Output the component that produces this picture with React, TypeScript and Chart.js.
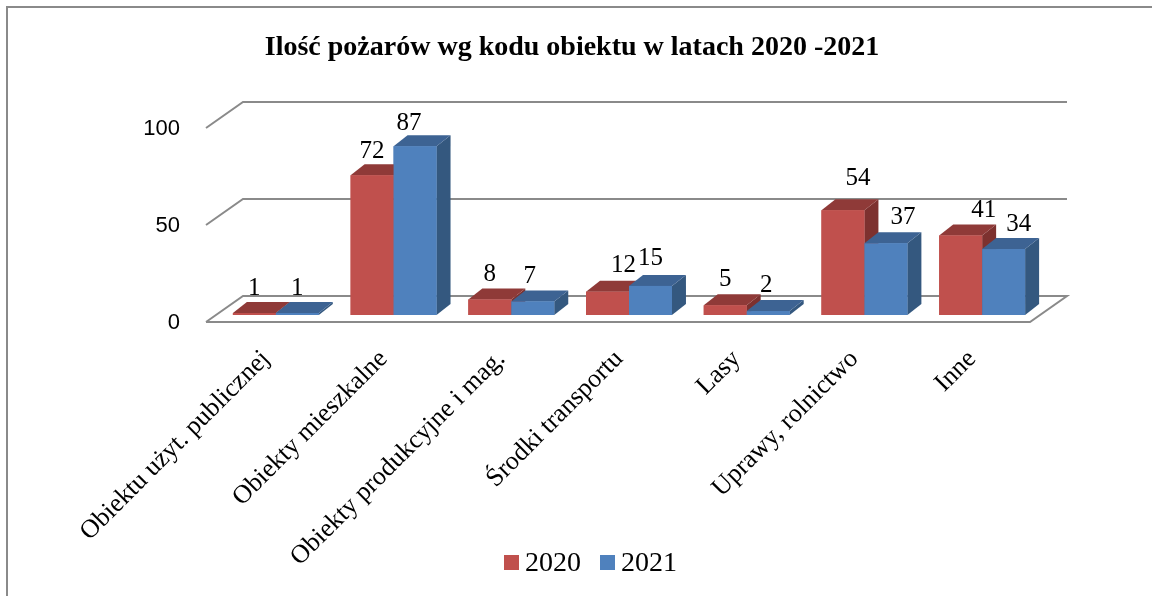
import { useEffect, useRef } from "react";
import { Chart, registerables } from "chart.js";

Chart.register(...registerables);

// ---- data ----
const CATEGORIES = [
  "Obiektu użyt. publicznej",
  "Obiekty mieszkalne",
  "Obiekty produkcyjne i mag.",
  "Środki transportu",
  "Lasy",
  "Uprawy, rolnictwo",
  "Inne",
];
const SERIES_NAMES = ["2020", "2021"];
const VALUES_2020 = [1, 72, 8, 12, 5, 54, 41];
const VALUES_2021 = [1, 87, 7, 15, 2, 37, 34];
const Y_TICKS = [0, 50, 100];
const TITLE = "Ilość pożarów wg kodu obiektu w latach 2020 -2021";

// ---- styles ----
const FRONT_COLORS = ["#C0504D", "#4F81BD"];
const TOP_COLORS = ["#8F3A38", "#3D6393"];
const SIDE_COLORS = ["#7D312F", "#34587F"];
const GRID_COLOR = "#8A8A8A";
const SERIF = "'Liberation Serif', 'Times New Roman', serif";
const SANS = "'Liberation Sans', Arial, sans-serif";
// 3D projection offsets (pixels) relative to the bar front plane
const FLOOR_FRONT = { dx: -11, dy: 7 };
const FLOOR_BACK = { dx: 26, dy: -19 };
const BAR_DEPTH = { dx: 14, dy: -11 };
// small nudges of value labels, as placed in the original
const LABEL_NUDGE_X = [
  [0, 0, 0, 16, 0, 15, 23],
  [0, -6, -3, 0, -2, 17, 15],
];
const LABEL_NUDGE_Y = [
  [0, 1, 0, -1, -1, -7, 0],
  [0, 2, 0, -2, -1, -1, 0],
];

const threeDPlugin = {
  id: "threeD",
  beforeDraw(chart: any) {
    const ctx = chart.ctx;
    ctx.save();
    ctx.fillStyle = "#ffffff";
    ctx.fillRect(0, 0, chart.width, chart.height);
    ctx.strokeStyle = GRID_COLOR;
    ctx.lineWidth = 2;
    ctx.beginPath();
    ctx.moveTo(7, chart.height);
    ctx.lineTo(7, 7);
    ctx.lineTo(chart.width, 7);
    ctx.stroke();
    ctx.restore();
  },
  beforeDatasetsDraw(chart: any) {
    const { ctx, chartArea: a } = chart;
    const y = chart.scales.y;
    ctx.save();
    ctx.strokeStyle = GRID_COLOR;
    ctx.lineWidth = 2;
    ctx.lineJoin = "miter";
    Y_TICKS.forEach((v) => {
      const py = y.getPixelForValue(v);
      ctx.beginPath();
      ctx.moveTo(a.left + FLOOR_FRONT.dx, py + FLOOR_FRONT.dy);
      ctx.lineTo(a.left + FLOOR_BACK.dx, py + FLOOR_BACK.dy);
      ctx.lineTo(a.right + FLOOR_BACK.dx, py + FLOOR_BACK.dy);
      if (v === 0) {
        ctx.lineTo(a.right + FLOOR_FRONT.dx, py + FLOOR_FRONT.dy);
        ctx.lineTo(a.left + FLOOR_FRONT.dx, py + FLOOR_FRONT.dy);
      }
      ctx.stroke();
    });
    ctx.restore();
  },
  afterDatasetsDraw(chart: any) {
    const ctx = chart.ctx;
    const metas = chart.data.datasets.map((_: any, i: number) => chart.getDatasetMeta(i));
    ctx.save();
    for (let c = 0; c < CATEGORIES.length; c++) {
      metas.forEach((meta: any, d: number) => {
        const el = meta.data[c];
        if (!el) return;
        const { x, y, base, width } = el.getProps(["x", "y", "base", "width"], true);
        const l = x - width / 2;
        const r = x + width / 2;
        const t = Math.min(y, base);
        const b = Math.max(y, base);
        // side
        ctx.fillStyle = SIDE_COLORS[d];
        ctx.beginPath();
        ctx.moveTo(r, t);
        ctx.lineTo(r + BAR_DEPTH.dx, t + BAR_DEPTH.dy);
        ctx.lineTo(r + BAR_DEPTH.dx, b + BAR_DEPTH.dy);
        ctx.lineTo(r, b);
        ctx.closePath();
        ctx.fill();
        // top
        ctx.fillStyle = TOP_COLORS[d];
        ctx.beginPath();
        ctx.moveTo(l, t);
        ctx.lineTo(r, t);
        ctx.lineTo(r + BAR_DEPTH.dx, t + BAR_DEPTH.dy);
        ctx.lineTo(l + BAR_DEPTH.dx, t + BAR_DEPTH.dy);
        ctx.closePath();
        ctx.fill();
        // front
        ctx.fillStyle = FRONT_COLORS[d];
        ctx.fillRect(l, t, r - l, b - t);
      });
    }
    // value labels
    ctx.fillStyle = "#000000";
    ctx.font = `25px ${SERIF}`;
    ctx.textAlign = "center";
    ctx.textBaseline = "middle";
    metas.forEach((meta: any, d: number) => {
      const values = chart.data.datasets[d].data;
      meta.data.forEach((el: any, c: number) => {
        const { x, y } = el.getProps(["x", "y"], true);
        ctx.fillText(
          String(values[c]),
          x + LABEL_NUDGE_X[d][c],
          y - 25 + LABEL_NUDGE_Y[d][c]
        );
      });
    });
    ctx.restore();
  },
  afterDraw(chart: any) {
    const ctx = chart.ctx;
    ctx.save();
    // title
    ctx.fillStyle = "#000000";
    ctx.font = `bold 28px ${SERIF}`;
    ctx.textAlign = "center";
    ctx.textBaseline = "middle";
    ctx.fillText(TITLE, 572, 48);
    // legend
    ctx.font = `28px ${SERIF}`;
    ctx.textAlign = "left";
    let lx = 504;
    const ly = 563;
    chart.data.datasets.forEach((ds: any, d: number) => {
      ctx.fillStyle = FRONT_COLORS[d];
      ctx.fillRect(lx, ly - 8, 15, 15);
      lx += 21;
      ctx.fillStyle = "#000000";
      ctx.fillText(ds.label, lx, ly + 1);
      lx += ctx.measureText(ds.label).width + 19;
    });
    ctx.restore();
  },
};

export default function App() {
  const canvasRef = useRef<HTMLCanvasElement | null>(null);

  useEffect(() => {
    const canvas = canvasRef.current;
    if (!canvas) return;
    const chart = new Chart(canvas, {
      type: "bar",
      data: {
        labels: CATEGORIES,
        datasets: [
          {
            label: SERIES_NAMES[0],
            data: VALUES_2020,
            backgroundColor: FRONT_COLORS[0],
            borderWidth: 0,
            categoryPercentage: 0.73,
            barPercentage: 1.0,
          },
          {
            label: SERIES_NAMES[1],
            data: VALUES_2021,
            backgroundColor: FRONT_COLORS[1],
            borderWidth: 0,
            categoryPercentage: 0.73,
            barPercentage: 1.0,
          },
        ],
      },
      options: {
        responsive: false,
        animation: false,
        devicePixelRatio: 1,
        layout: { padding: { top: 121, right: 111, left: 0, bottom: 0 } },
        plugins: {
          legend: { display: false },
          title: { display: false },
          tooltip: { enabled: false },
        },
        scales: {
          x: {
            grid: { display: false, drawTicks: false },
            border: { display: false },
            ticks: {
              autoSkip: false,
              minRotation: 45,
              maxRotation: 45,
              padding: 29,
              labelOffset: -10,
              color: "#000000",
              font: { family: SERIF, size: 26 },
            },
            afterFit(scale: any) {
              scale.height = 596 - 315;
            },
          },
          y: {
            min: 0,
            max: 100,
            grid: { display: false, drawTicks: false },
            border: { display: false },
            ticks: {
              stepSize: 50,
              padding: 37,
              labelOffset: 8,
              color: "#000000",
              font: { family: SANS, size: 22 },
            },
            afterFit(scale: any) {
              scale.width = 217;
            },
          },
        },
      },
      plugins: [threeDPlugin],
    });
    return () => chart.destroy();
  }, []);

  return (
    <div style={{ position: "fixed", left: 0, top: 0, width: 1152, height: 596, background: "#fff" }}>
      <canvas ref={canvasRef} width={1152} height={596} style={{ display: "block" }} />
    </div>
  );
}
